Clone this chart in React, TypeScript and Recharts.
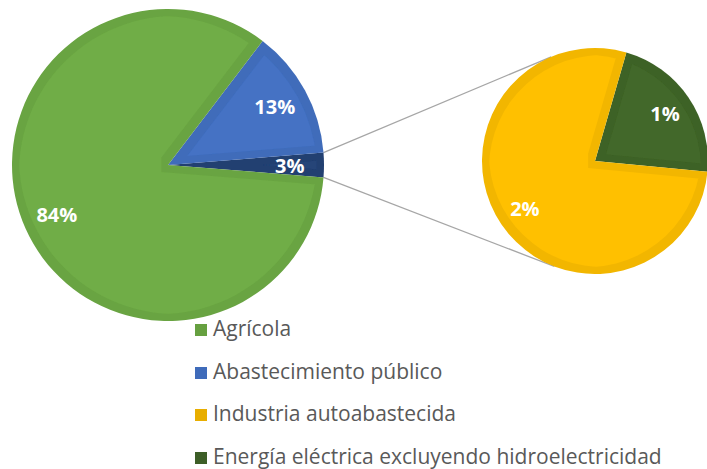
import React from "react";
import { PieChart, Pie, Cell, Customized } from "recharts";

// values in % of total water use
const mainNames = ["Agrícola", "Abastecimiento público"];
const mainValues = [84.1, 13.36];
const subNames = ["Industria autoabastecida", "Energía eléctrica excluyendo hidroelectricidad"];
const subValues = [1.98, 0.56];
const otherName = "Otros";

const mainColors = ["#70AD47", "#4472C4"];
const subColors = ["#FFC000", "#43682B"];
const otherColor = "#264478";
const legendColors = ["#66A040", "#3F6BBA", "#E8AE00", "#3D5E27"];

const W = 707;
const H = 469;
const LEFT = { cx: 168, cy: 165, r: 156 };
const RIGHT = { cx: 595, cy: 161, r: 113 };
const RAD = Math.PI / 180;

const otherTotal = subValues.reduce((a, b) => a + b, 0);
const otherHalf = (otherTotal / 100) * 180;

// counter-clockwise order from 3 o'clock: split slice, public supply, agriculture
const leftData = [
  { name: otherName, value: otherTotal, fill: otherColor },
  { name: mainNames[1], value: mainValues[1], fill: mainColors[1] },
  { name: mainNames[0], value: mainValues[0], fill: mainColors[0] },
];
const rightData = [
  { name: subNames[1], value: subValues[1], fill: subColors[1] },
  { name: subNames[0], value: subValues[0], fill: subColors[0] },
];

const legendItems = [
  { name: mainNames[0], color: legendColors[0] },
  { name: mainNames[1], color: legendColors[1] },
  { name: subNames[0], color: legendColors[2] },
  { name: subNames[1], color: legendColors[3] },
];

const makeLabel = (factor: number) => (props: any) => {
  const { cx, cy, midAngle, outerRadius, value } = props;
  const r = outerRadius * factor;
  const x = cx + r * Math.cos(-midAngle * RAD);
  const y = cy + r * Math.sin(-midAngle * RAD);
  return (
    <text
      x={x}
      y={y}
      fill="#fff"
      textAnchor="middle"
      dominantBaseline="central"
      fontFamily="'Open Sans', sans-serif"
      fontWeight={700}
      fontSize={20}
    >
      {Math.round(value)}%
    </text>
  );
};

const tangent = (px: number, py: number, sign: number) => {
  const dx = px - RIGHT.cx;
  const dy = py - RIGHT.cy;
  const d = Math.sqrt(dx * dx + dy * dy);
  const base = Math.atan2(dy, dx);
  const a = base + sign * Math.acos(RIGHT.r / d);
  return [RIGHT.cx + RIGHT.r * Math.cos(a), RIGHT.cy + RIGHT.r * Math.sin(a)];
};

const Connectors = () => {
  const tx = LEFT.cx + LEFT.r * Math.cos(otherHalf * RAD);
  const ty = LEFT.cy - LEFT.r * Math.sin(otherHalf * RAD);
  const by = LEFT.cy + LEFT.r * Math.sin(otherHalf * RAD);
  const [t1x, t1y] = tangent(tx, ty, 1);
  const [t2x, t2y] = tangent(tx, by, -1);
  return (
    <g>
      <line x1={tx} y1={ty} x2={t1x} y2={t1y} stroke="#A6A6A6" strokeWidth={1.3} />
      <line x1={tx} y1={by} x2={t2x} y2={t2y} stroke="#A6A6A6" strokeWidth={1.3} />
    </g>
  );
};

export default function App() {
  return (
    <div style={{ position: "absolute", left: 0, top: 0, width: W, height: H, background: "#fff" }}>
      <svg width={0} height={0} style={{ position: "absolute" }}>
        <defs>
          <filter id="inset" x="-10%" y="-10%" width="120%" height="120%">
            <feComponentTransfer in="SourceGraphic" result="dark">
              <feFuncR type="linear" slope={0.89} />
              <feFuncG type="linear" slope={0.89} />
              <feFuncB type="linear" slope={0.89} />
            </feComponentTransfer>
            <feMorphology in="SourceGraphic" operator="erode" radius={7} result="inner" />
            <feMerge>
              <feMergeNode in="dark" />
              <feMergeNode in="inner" />
            </feMerge>
          </filter>
        </defs>
      </svg>
      <PieChart width={W} height={H} margin={{ top: 0, right: 0, bottom: 0, left: 0 }}>
        <Customized component={Connectors} />
        <Pie
          data={leftData}
          dataKey="value"
          nameKey="name"
          cx={LEFT.cx}
          cy={LEFT.cy}
          outerRadius={LEFT.r}
          startAngle={-otherHalf}
          endAngle={360 - otherHalf}
          stroke="none"
          label={makeLabel(0.78)}
          labelLine={false}
          isAnimationActive={false}
        >
          {leftData.map((d) => (
            <Cell key={d.name} fill={d.fill} filter="url(#inset)" />
          ))}
        </Pie>
        <Pie
          data={rightData}
          dataKey="value"
          nameKey="name"
          cx={RIGHT.cx}
          cy={RIGHT.cy}
          outerRadius={RIGHT.r}
          startAngle={-5.5}
          endAngle={354.5}
          stroke="none"
          label={makeLabel(0.75)}
          labelLine={false}
          isAnimationActive={false}
        >
          {rightData.map((d) => (
            <Cell key={d.name} fill={d.fill} filter="url(#inset)" />
          ))}
        </Pie>
      </PieChart>
      {legendItems.map((item, i) => (
        <div
          key={item.name}
          style={{
            position: "absolute",
            left: 195,
            top: 314 + i * 42.7,
            height: 28,
            display: "flex",
            alignItems: "center",
            fontFamily: "'Open Sans', sans-serif",
            fontSize: 21,
            lineHeight: "28px",
            color: "#595959",
            whiteSpace: "nowrap",
          }}
        >
          <span
            style={{ display: "inline-block", width: 12, height: 12, background: item.color, marginRight: 6, marginTop: 4 }}
          />
          {item.name}
        </div>
      ))}
    </div>
  );
}
